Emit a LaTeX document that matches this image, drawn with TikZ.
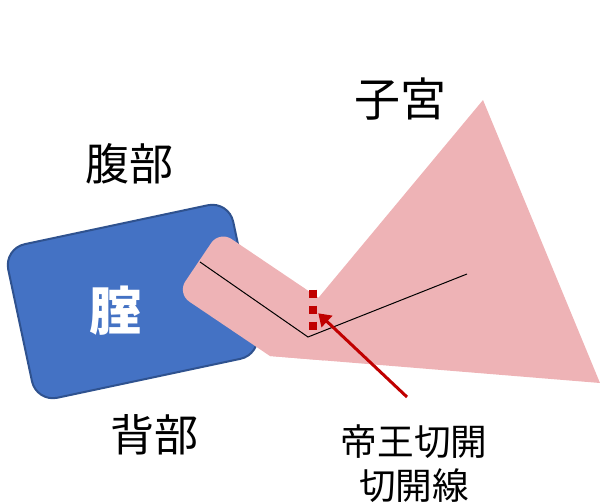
\documentclass[tikz,border=0pt]{standalone}
\usepackage{fontspec}
\setmainfont{Noto Sans CJK JP}
\usetikzlibrary{arrows.meta}

\definecolor{vagblue}{RGB}{68,114,196}
\definecolor{vagedge}{RGB}{47,82,143}
\definecolor{uterpink}{RGB}{238,179,182}
\definecolor{cutred}{RGB}{192,0,0}

\begin{document}
\begin{tikzpicture}[x=0.75pt, y=-0.75pt, lbl/.style={inner sep=0pt, font=\fontsize{33}{40}\selectfont}]
	\useasboundingbox (0,0) rectangle (600,503);

	% vagina
	\begin{scope}[shift={(132.6,301.5)}, rotate=12]
		\filldraw[fill=vagblue, draw=vagedge, line width=1.5pt, rounded corners=16pt] (-115,-78.5) rectangle (115,78.5);
	\end{scope}
	\node[lbl, text=white, font=\fontsize{39}{44}\selectfont\bfseries] (vagina) at (115,311) {腟};

	% cervix, cut off along the lower edge of the uterus
	\begin{scope}
		\clip (150,0) -- (600,0) -- (600,383) -- (270,356) -- (150,346.2) -- cycle;
		\begin{scope}[shift={(264.2,306.6)}, rotate=-34]
			\fill[uterpink, rounded corners=11pt] (-79.5,-37.75) rectangle (79.5,37.75);
		\end{scope}
	\end{scope}
	% uterus
	\fill[uterpink] (483,100) -- (600,383) -- (270,356) -- cycle;

	% incision line
	\draw[line width=0.75pt] (200,262) -- (308,337) -- (467,274);
	\draw[cutred, line width=6pt, dash pattern=on 6pt off 6pt] (313,289.5) -- (313,330);

	\node[lbl, font=\fontsize{34.5}{40}\selectfont] (uterus) at (400,99) {子宮};
	\node[lbl] (belly) at (129.5,164) {腹部};
	\node[lbl] (back) at (154.5,435) {背部};
	\node[lbl, align=center, font=\fontsize{27.5}{33}\selectfont] (csec) at (414,464) {帝王切開\\切開線};

	\coordinate (tail) at (407,397);
	\coordinate (tip) at (318.3,313.3);
	\draw[cutred, line width=2.25pt, -{Triangle[length=9pt, width=11.5pt]}] (tail) -- (tip);
\end{tikzpicture}
\end{document}
